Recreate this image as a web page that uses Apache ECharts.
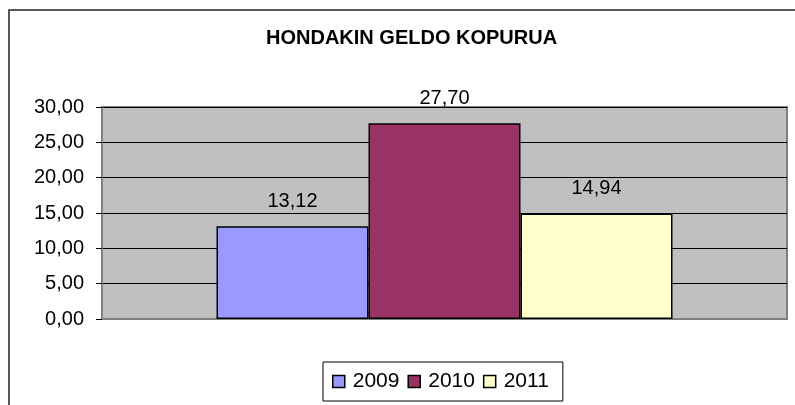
<!DOCTYPE html>
<html>
<head>
<meta charset="utf-8">
<script src="https://cdn.jsdelivr.net/npm/echarts@6/dist/echarts.min.js"></script>
<style>
  html, body { margin: 0; padding: 0; background: #fff; }
  #container { width: 795px; height: 405px; }
</style>
</head>
<body>
<div id="container"></div>
<script>
var categories = [''];
var seriesNames = ['2009', '2010', '2011'];
var seriesValues = [[13.12], [27.70], [14.94]];
var seriesColors = ['#9999FF', '#993366', '#FFFFCC'];
var yTicks = { min: 0, max: 30, interval: 5 };

var dom = document.getElementById('container');
var myChart = echarts.init(dom);

function fmt(v) {
    return v.toFixed(2).replace('.', ',');
}

var series = [];
for (var i = 0; i < seriesNames.length; i++) {
    series.push({
        name: seriesNames[i],
        type: 'bar',
        data: seriesValues[i],
        barWidth: 152,
        barGap: '0%',
        itemStyle: { color: seriesColors[i], borderColor: '#000', borderWidth: 1.5 },
        label: {
            show: true,
            position: 'top',
            distance: 15,
            color: '#000',
            fontFamily: 'Liberation Sans, Arial',
            fontSize: 20,
            formatter: function (p) { return fmt(p.value); }
        }
    });
}

var option = {
    backgroundColor: '#FFFFFF',
    animation: false,
    title: {
        text: 'HONDAKIN GELDO KOPURUA',
        left: 261,
        top: 23,
        textStyle: { fontFamily: 'Liberation Sans, Arial', fontSize: 20, fontWeight: 'bold', color: '#000' }
    },
    legend: {
        data: seriesNames,
        left: 323,
        top: 362,
        padding: [9, 14, 9, 9],
        itemGap: 8,
        itemWidth: 12,
        itemHeight: 12,
        icon: 'rect',
        borderColor: '#000',
        borderWidth: 1,
        itemStyle: { borderColor: '#000', borderWidth: 1.5 },
        textStyle: { fontFamily: 'Liberation Sans, Arial', fontSize: 21, color: '#000', padding: [0, 0, 0, 3] }
    },
    grid: {
        left: 102,
        top: 107,
        right: 8,
        bottom: 86,
        show: true,
        backgroundColor: '#C0C0C0',
        borderColor: '#808080',
        borderWidth: 2
    },
    xAxis: {
        type: 'category',
        data: categories,
        axisLine: { lineStyle: { color: '#808080', width: 2 } },
        axisTick: { show: false },
        axisLabel: { show: false }
    },
    yAxis: {
        type: 'value',
        min: yTicks.min,
        max: yTicks.max,
        interval: yTicks.interval,
        axisLine: { show: true, lineStyle: { color: '#808080', width: 2 } },
        axisTick: { show: true, length: 6, lineStyle: { color: '#000' } },
        axisLabel: {
            margin: 18,
            color: '#000',
            fontFamily: 'Liberation Sans, Arial',
            fontSize: 20,
            formatter: function (v) { return fmt(v); }
        },
        splitLine: { show: true, lineStyle: { color: '#000', width: 1 } }
    },
    graphic: [{
        type: 'rect',
        shape: { x: 9, y: 10, width: 820, height: 430 },
        style: { fill: 'none', stroke: '#222', lineWidth: 1.5 },
        silent: true
    }],
    series: series
};

myChart.setOption(option);
window.onresize = function () {
    myChart.resize();
};
</script>
</body>
</html>
